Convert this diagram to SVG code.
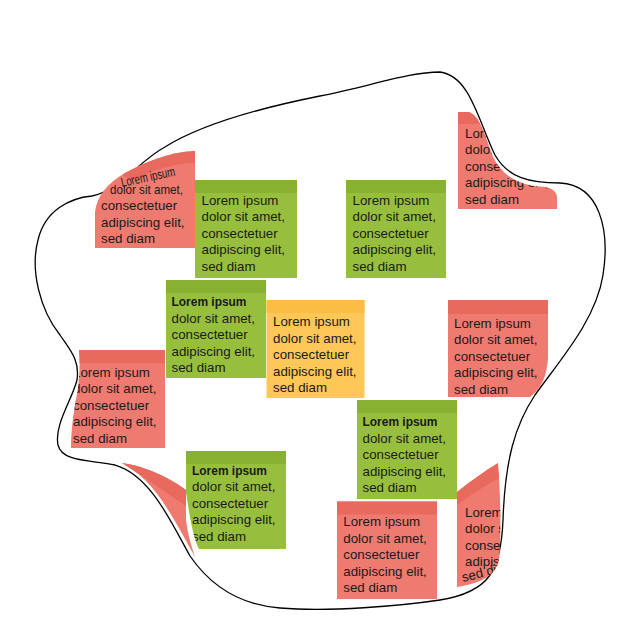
<svg xmlns="http://www.w3.org/2000/svg" width="630" height="640" viewBox="0 0 630 640">
<style>
.t{font-family:"Liberation Sans",Arial,sans-serif;font-size:13.3px;fill:#1a1a1a}
.b{font-weight:bold}
.g{fill:#97bf3d}.gs{fill:#88b132}
.o{fill:#fec757}.os{fill:#fbbd44}
.r{fill:#ef7b70}.rs{fill:#e86a5e}
.blob{fill:none;stroke:#000;stroke-width:1.3}
</style>
<defs>
<clipPath id="cTL"><path d="M195,151 L195,248 L95,248 L95,212 C97,195 108,183 125,173 C145,162 170,152 195,151 Z"/></clipPath>
<clipPath id="cTR"><path d="M458,112 L469,112 C480,116 485,135 493,157 C502,176 520,186 545,187 C552,188 557,192 557,197 L557,209 L458,209 Z"/></clipPath>
<clipPath id="cLM"><path d="M79,350 L165,350 L165,448 L71,448 C71,425 75,405 78,388 C80,372 80,360 79,350 Z"/></clipPath>
<clipPath id="cG5"><path d="M186,451 L286,451 L286,549 L199,549 C194,540 190,520 186,492 Z"/></clipPath>
<clipPath id="cRR"><path d="M448,300 L548,300 L548,358 C547,375 542,388 530,397 L448,397 Z"/></clipPath>
<clipPath id="cBR"><path d="M457,492 C470,481 485,471 498,463 C501,500 501,540 499,560 C496,575 482,583 457,587 Z"/></clipPath>
</defs>

<path id="outline" class="blob" d="M440,72 C470,76 478,120 495,155 C508,178 530,183 560,183 C600,185 610,230 603,275 C596,320 560,360 535,395 C515,425 505,460 503,520 C501,570 490,592 440,600 C400,606 330,612 280,608 C240,605 210,585 190,556 C170,520 150,475 115,465 C90,460 62,462 58,445 C54,425 72,400 77,380 C80,360 70,350 60,335 C40,310 30,270 38,240 C45,210 70,198 92,196 C120,190 140,160 165,147 C200,125 260,108 320,96 C370,86 410,72 440,72 Z"/>

<g id="note-red-topleft">
<g clip-path="url(#cTL)">
<rect class="r" x="95" y="150" width="100" height="98"/>
<path class="rs" d="M195,150 L195,163 C175,163 152,170 132,181 L122,174 C145,162 170,151 195,150 Z"/>
<text class="t" x="122" y="187" textLength="55" lengthAdjust="spacingAndGlyphs" transform="rotate(-12 122 187)">Lorem ipsum</text>
<text class="t" x="110" y="194" textLength="73" lengthAdjust="spacingAndGlyphs">dolor sit amet,</text>
<text class="t" x="101"><tspan x="101" y="209.5">consectetuer</tspan><tspan x="101" y="226.5">adipiscing elit,</tspan><tspan x="101" y="243">sed diam</tspan></text>
</g>
</g>

<g id="note-green-1">
<rect class="g" x="195" y="180" width="102" height="98"/>
<rect class="gs" x="195" y="180" width="102" height="13"/>
<text class="t"><tspan x="201.5" y="204.5">Lorem ipsum</tspan><tspan x="201.5" dy="16.6">dolor sit amet,</tspan><tspan x="201.5" dy="16.6">consectetuer</tspan><tspan x="201.5" dy="16.6">adipiscing elit,</tspan><tspan x="201.5" dy="16.6">sed diam</tspan></text>
</g>

<g id="note-green-2">
<rect class="g" x="346" y="180" width="100" height="98"/>
<rect class="gs" x="346" y="180" width="100" height="13"/>
<text class="t"><tspan x="352.5" y="204.5">Lorem ipsum</tspan><tspan x="352.5" dy="16.6">dolor sit amet,</tspan><tspan x="352.5" dy="16.6">consectetuer</tspan><tspan x="352.5" dy="16.6">adipiscing elit,</tspan><tspan x="352.5" dy="16.6">sed diam</tspan></text>
</g>

<g id="note-red-topright">
<g clip-path="url(#cTR)">
<rect class="r" x="458" y="112" width="100" height="98"/>
<rect class="rs" x="458" y="112" width="100" height="12"/>
<text class="t"><tspan x="465" y="137.5">Lorem ipsum</tspan><tspan x="465" dy="16.6">dolor sit amet,</tspan><tspan x="465" dy="16.6">consectetuer</tspan><tspan x="465" dy="16.6">adipiscing elit,</tspan><tspan x="465" dy="16.6">sed diam</tspan></text>
</g>
</g>

<g id="note-green-3">
<rect class="g" x="166" y="280" width="100" height="98"/>
<rect class="gs" x="166" y="280" width="100" height="13"/>
<text class="t"><tspan class="b" x="171.5" y="306" textLength="75" lengthAdjust="spacingAndGlyphs">Lorem ipsum</tspan><tspan x="171.5" y="322.6">dolor sit amet,</tspan><tspan x="171.5" dy="16.6">consectetuer</tspan><tspan x="171.5" dy="16.6">adipiscing elit,</tspan><tspan x="171.5" dy="16.6">sed diam</tspan></text>
</g>

<g id="note-orange">
<rect class="o" x="266.5" y="300" width="98" height="98"/>
<rect class="os" x="266.5" y="300" width="98" height="13"/>
<text class="t"><tspan x="273" y="326">Lorem ipsum</tspan><tspan x="273" dy="16.6">dolor sit amet,</tspan><tspan x="273" dy="16.6">consectetuer</tspan><tspan x="273" dy="16.6">adipiscing elit,</tspan><tspan x="273" dy="16.6">sed diam</tspan></text>
</g>

<g id="note-red-right">
<g clip-path="url(#cRR)">
<rect class="r" x="448" y="300" width="100" height="98"/>
<rect class="rs" x="448" y="300" width="100" height="14"/>
<text class="t"><tspan x="454" y="327.5">Lorem ipsum</tspan><tspan x="454" dy="16.5">dolor sit amet,</tspan><tspan x="454" dy="16.5">consectetuer</tspan><tspan x="454" dy="16.5">adipiscing elit,</tspan><tspan x="454" dy="16.5">sed diam</tspan></text>
</g>
</g>

<g id="note-red-leftmid">
<g clip-path="url(#cLM)">
<rect class="r" x="70" y="350" width="95" height="98"/>
<rect class="rs" x="70" y="350" width="95" height="13"/>
<text class="t"><tspan x="73" y="376.5">Lorem ipsum</tspan><tspan x="73" dy="16.6">dolor sit amet,</tspan><tspan x="73" dy="16.6">consectetuer</tspan><tspan x="73" dy="16.6">adipiscing elit,</tspan><tspan x="73" dy="16.6">sed diam</tspan></text>
</g>
</g>

<g id="note-green-4">
<rect class="g" x="357" y="400" width="100" height="99"/>
<rect class="gs" x="357" y="400" width="100" height="13"/>
<text class="t"><tspan class="b" x="362.5" y="426" textLength="75" lengthAdjust="spacingAndGlyphs">Lorem ipsum</tspan><tspan x="362.5" y="442.6">dolor sit amet,</tspan><tspan x="362.5" dy="16.6">consectetuer</tspan><tspan x="362.5" dy="16.6">adipiscing elit,</tspan><tspan x="362.5" dy="16.6">sed diam</tspan></text>
</g>

<g id="note-red-sliver">
<path class="r" d="M122,463 C145,466 170,478 186,490 L186,520 C188,535 191,545 195,557 C180,530 165,500 145,480 C138,473 130,467 122,463 Z"/>
<path class="rs" d="M122,463 C145,466 170,478 186,490 L186,506 C168,494 145,478 122,463 Z"/>
</g>

<g id="note-green-5">
<g clip-path="url(#cG5)">
<rect class="g" x="186" y="451" width="100" height="98"/>
<rect class="gs" x="186" y="451" width="100" height="13"/>
<text class="t"><tspan class="b" x="192" y="474.5" textLength="75" lengthAdjust="spacingAndGlyphs">Lorem ipsum</tspan><tspan x="192" y="491.1">dolor sit amet,</tspan><tspan x="192" dy="16.6">consectetuer</tspan><tspan x="192" dy="16.6">adipiscing elit,</tspan><tspan x="192" dy="16.6">sed diam</tspan></text>
</g>
</g>

<g id="note-red-bottom">
<rect class="r" x="337" y="501.5" width="100" height="97.5"/>
<rect class="rs" x="337" y="501.5" width="100" height="13"/>
<text class="t"><tspan x="343.3" y="526">Lorem ipsum</tspan><tspan x="343.3" dy="16.6">dolor sit amet,</tspan><tspan x="343.3" dy="16.6">consectetuer</tspan><tspan x="343.3" dy="16.6">adipiscing elit,</tspan><tspan x="343.3" dy="16.6">sed diam</tspan></text>
</g>

<g id="note-red-bottomright">
<g clip-path="url(#cBR)">
<rect class="r" x="455" y="460" width="48" height="130"/>
<path class="rs" d="M457,492 C470,481 485,471 498,463 L499,478 C485,486 470,495 457,505 Z"/>
<text class="t"><tspan x="465" y="516.5">Lorem ipsum</tspan><tspan x="465" dy="16.6">dolor sit amet,</tspan><tspan x="465" dy="16.6">consectetuer</tspan><tspan x="465" dy="16.6">adipiscing elit,</tspan></text>
<text class="t" x="463" y="582" font-size="9" transform="rotate(-14 463 582)">sed diam</text>
</g>
</g>
</svg>
